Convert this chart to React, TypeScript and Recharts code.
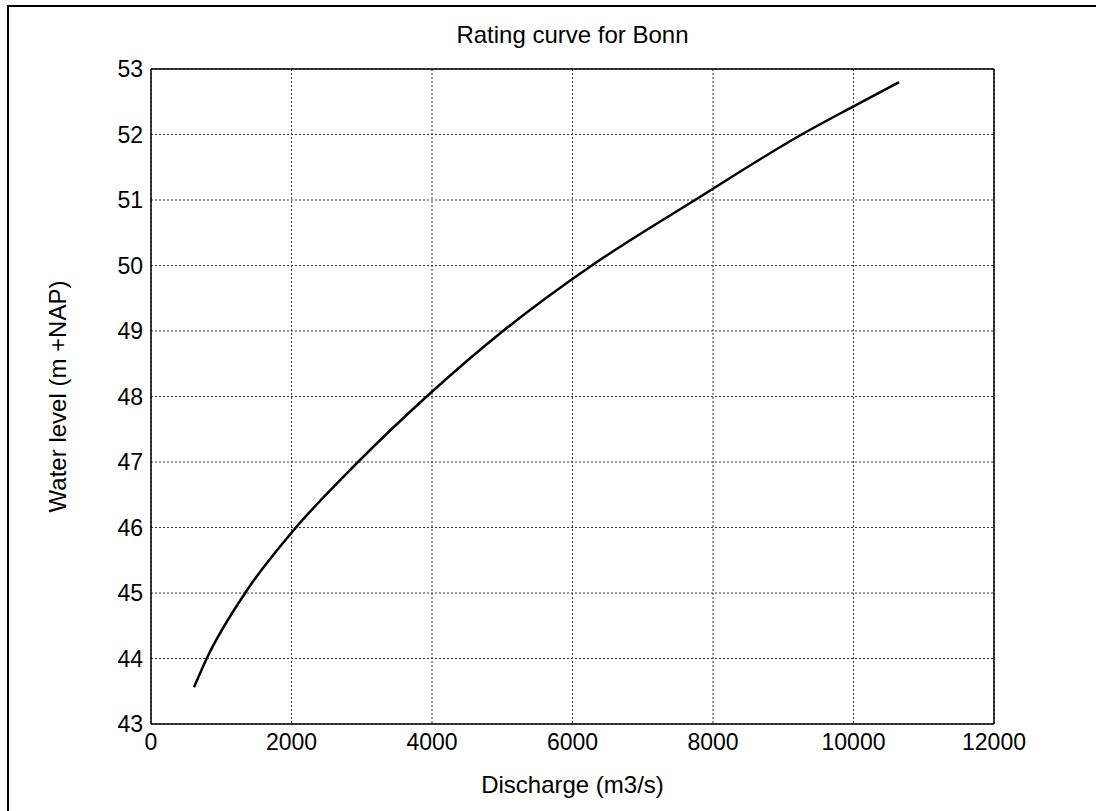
import React from 'react';
import { LineChart, Line, XAxis, YAxis, CartesianGrid, ReferenceLine } from 'recharts';

// discharge (m3/s) vs water level (m +NAP)
const discharge = [612, 793, 1340, 2000, 2947, 3924, 5011, 6274, 7744, 9262, 10000, 10648];
const waterLevel = [43.56, 44.0, 45.0, 45.92, 47.0, 48.0, 49.0, 50.0, 51.0, 52.0, 52.43, 52.8];

const xTicks = [0, 2000, 4000, 6000, 8000, 10000, 12000];
const yTicks = [43, 44, 45, 46, 47, 48, 49, 50, 51, 52, 53];

const data = discharge.map((q, i) => ({ q, h: waterLevel[i] }));

const font = '"Liberation Sans", Arial, sans-serif';
const tickStyle = { fill: '#000', fontSize: 23, fontFamily: font };

const App: React.FC = () => {
    return (
        <div style={{ position: 'fixed', left: 0, top: 0, width: 1096, height: 811, overflow: 'hidden', background: '#fff' }}>
            <div
                style={{
                    position: 'absolute',
                    left: 7,
                    top: 5,
                    width: 1200,
                    height: 900,
                    borderLeft: '2px solid #000',
                    borderTop: '2px solid #000',
                }}
            />
            <div
                style={{
                    position: 'absolute',
                    left: 151,
                    width: 843,
                    top: 23,
                    textAlign: 'center',
                    fontFamily: font,
                    fontSize: 24,
                    lineHeight: '24px',
                    color: '#000',
                }}
            >
                Rating curve for Bonn
            </div>
            <div style={{ position: 'absolute', left: 0, top: 0 }}>
                <LineChart width={1096} height={811} data={data} margin={{ top: 69, right: 102, left: 40, bottom: 0 }}>
                    <CartesianGrid stroke="#333" strokeDasharray="2 2" />
                    <XAxis
                        dataKey="q"
                        type="number"
                        domain={[0, 12000]}
                        ticks={xTicks}
                        height={87}
                        tickLine={false}
                        tickSize={0}
                        tickMargin={10}
                        axisLine={{ stroke: '#000', strokeWidth: 1.5 }}
                        tick={tickStyle}
                        label={{ value: 'Discharge (m3/s)', position: 'insideBottom', offset: 18, style: { fill: '#000', fontSize: 24, fontFamily: font } }}
                    />
                    <YAxis
                        dataKey="h"
                        type="number"
                        domain={[43, 53]}
                        ticks={yTicks}
                        width={111}
                        tickLine={false}
                        tickSize={0}
                        tickMargin={8}
                        axisLine={{ stroke: '#000', strokeWidth: 1.5 }}
                        tick={tickStyle}
                        label={{ value: 'Water level (m +NAP)', angle: -90, position: 'insideLeft', offset: 17, style: { textAnchor: 'middle', fill: '#000', fontSize: 24, fontFamily: font } }}
                    />
                    <ReferenceLine y={53} stroke="#000" strokeWidth={1.5} />
                    <ReferenceLine x={12000} stroke="#000" strokeWidth={1.5} />
                    <Line type="monotone" dataKey="h" stroke="#000" strokeWidth={2.5} dot={false} isAnimationActive={false} />
                </LineChart>
            </div>
        </div>
    );
};

export default App;
